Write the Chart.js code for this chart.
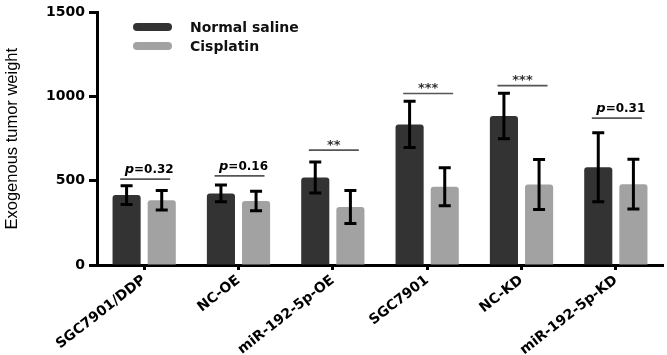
<!DOCTYPE html>
<html>
<head>
<meta charset="utf-8">
<script src="https://cdn.jsdelivr.net/npm/chart.js@4/dist/chart.umd.min.js"></script>
<style>
  html, body { margin: 0; padding: 0; background: #ffffff; }
  #wrap { width: 667px; height: 355px; position: relative; }
</style>
</head>
<body>
<div id="wrap"><canvas id="c" width="667" height="355"></canvas></div>
<script>
// ---- data ----
const categories = ['SGC7901/DDP', 'NC-OE', 'miR-192-5p-OE', 'SGC7901', 'NC-KD', 'miR-192-5p-KD'];
const seriesNames = ['Normal saline', 'Cisplatin'];
const salineMean = [415, 425, 520, 835, 885, 580];
const salineErr = [55, 50, 92, 137, 135, 205];
const cisplatinMean = [385, 380, 345, 465, 478, 480];
const cisplatinErr = [58, 58, 98, 113, 148, 148];
const sigLabels = ['p=0.32', 'p=0.16', '**', '***', '***', 'p=0.31'];
const sigLevels = [510, 529, 682, 1018, 1065, 872];
const yTicks = [0, 500, 1000, 1500];
const yTitle = 'Exogenous tumor weight';

// ---- styles ----
const DARK = '#333333';
const LIGHT = '#a2a2a2';
const BOLD_FONT = 'DejaVu Sans';

const errors = [salineErr, cisplatinErr];

const errorBarPlugin = {
  id: 'errorBars',
  afterDatasetsDraw(chart) {
    const ctx = chart.ctx;
    const y = chart.scales.y;
    chart.data.datasets.forEach((ds, di) => {
      const meta = chart.getDatasetMeta(di);
      meta.data.forEach((bar, i) => {
        const v = ds.data[i];
        const e = errors[di][i];
        const top = y.getPixelForValue(v + e);
        const bot = y.getPixelForValue(v - e);
        const x = bar.x;
        const cap = 6;
        ctx.save();
        ctx.strokeStyle = '#000';
        ctx.lineWidth = 3;
        ctx.beginPath();
        ctx.moveTo(x, top); ctx.lineTo(x, bot);
        ctx.moveTo(x - cap, top); ctx.lineTo(x + cap, top);
        ctx.moveTo(x - cap, bot); ctx.lineTo(x + cap, bot);
        ctx.stroke();
        ctx.restore();
      });
    });
  }
};

function drawCentered(ctx, parts, cx, cy) {
  let total = 0, asc = 0, desc = 0;
  parts.forEach(p => {
    ctx.font = p.font;
    const m = ctx.measureText(p.text);
    p.w = m.width;
    total += m.width;
    asc = Math.max(asc, m.actualBoundingBoxAscent);
    desc = Math.max(desc, m.actualBoundingBoxDescent);
  });
  const base = cy + (asc - desc) / 2;
  let x = cx - total / 2;
  parts.forEach(p => {
    ctx.font = p.font;
    ctx.textAlign = 'left';
    ctx.textBaseline = 'alphabetic';
    ctx.fillText(p.text, x, base);
    x += p.w;
  });
}

const sigPlugin = {
  id: 'significance',
  afterDatasetsDraw(chart) {
    const ctx = chart.ctx;
    const xs = chart.scales.x;
    const ys = chart.scales.y;
    sigLabels.forEach((lab, i) => {
      const cx = xs.getPixelForValue(i);
      const ly = ys.getPixelForValue(sigLevels[i]);
      ctx.save();
      ctx.strokeStyle = '#555';
      ctx.lineWidth = 1.6;
      ctx.beginPath();
      ctx.moveTo(cx - 24, ly);
      ctx.lineTo(cx + 26, ly);
      ctx.stroke();
      if (lab.startsWith('p')) {
        ctx.fillStyle = '#000';
        drawCentered(ctx, [
          { text: 'p', font: 'italic bold 13px "' + BOLD_FONT + '"' },
          { text: lab.slice(1), font: 'bold 12px "' + BOLD_FONT + '"' }
        ], cx + 5, ly - 9);
      } else {
        ctx.fillStyle = '#333';
        drawCentered(ctx, [{ text: lab, font: 'bold 13px "' + BOLD_FONT + '"' }], cx + 1, ly - 6);
      }
      ctx.restore();
    });
  }
};

const legendPlugin = {
  id: 'customLegend',
  afterDraw(chart) {
    const ctx = chart.ctx;
    const colors = [DARK, LIGHT];
    seriesNames.forEach((name, i) => {
      const cy = 27 + i * 19;
      ctx.save();
      ctx.fillStyle = colors[i];
      ctx.beginPath();
      ctx.roundRect(133, cy - 4, 39, 8, 4);
      ctx.fill();
      ctx.fillStyle = '#111';
      ctx.font = 'bold 14px "' + BOLD_FONT + '"';
      ctx.textAlign = 'left';
      ctx.textBaseline = 'middle';
      ctx.fillText(name, 190, cy + 1);
      ctx.restore();
    });
  }
};

new Chart(document.getElementById('c'), {
  type: 'bar',
  data: {
    labels: categories,
    datasets: [
      { label: seriesNames[0], data: salineMean, backgroundColor: DARK,
        borderRadius: { topLeft: 3, topRight: 3 }, borderSkipped: 'start',
        categoryPercentage: 0.745, barPercentage: 0.8 },
      { label: seriesNames[1], data: cisplatinMean, backgroundColor: LIGHT,
        borderRadius: { topLeft: 3, topRight: 3 }, borderSkipped: 'start',
        categoryPercentage: 0.745, barPercentage: 0.8 }
    ]
  },
  options: {
    responsive: false,
    animation: false,
    devicePixelRatio: 1,
    layout: { padding: { top: 10, right: 4, left: 0, bottom: 0 } },
    plugins: { legend: { display: false }, tooltip: { enabled: false } },
    scales: {
      x: {
        grid: { display: true, drawOnChartArea: false, offset: false, tickLength: 5, tickWidth: 3, tickColor: '#000' },
        border: { display: true, color: '#000', width: 3 },
        ticks: {
          color: '#000', minRotation: 38, maxRotation: 38, padding: 2, autoSkip: false,
          font: { family: BOLD_FONT, weight: 'bold', size: 14 }
        },
        afterFit(scale) { scale.height = 90; }
      },
      y: {
        min: 0, max: 1500,
        afterBuildTicks(scale) { scale.ticks = yTicks.map(v => ({ value: v })); },
        grid: { display: true, drawOnChartArea: false, tickLength: 8, tickWidth: 3, tickColor: '#000' },
        border: { display: true, color: '#000', width: 3 },
        ticks: {
          color: '#000', padding: 4,
          callback: (v) => String(v),
          font: { family: BOLD_FONT, weight: 'bold', size: 14 }
        },
        title: {
          display: true, text: yTitle, color: '#000',
          font: { family: 'Liberation Sans', size: 16.5, weight: 'normal' },
          padding: { top: 3, bottom: 0 }
        },
        afterFit(scale) { scale.width = 97; }
      }
    }
  },
  plugins: [errorBarPlugin, sigPlugin, legendPlugin]
});
</script>
</body>
</html>
